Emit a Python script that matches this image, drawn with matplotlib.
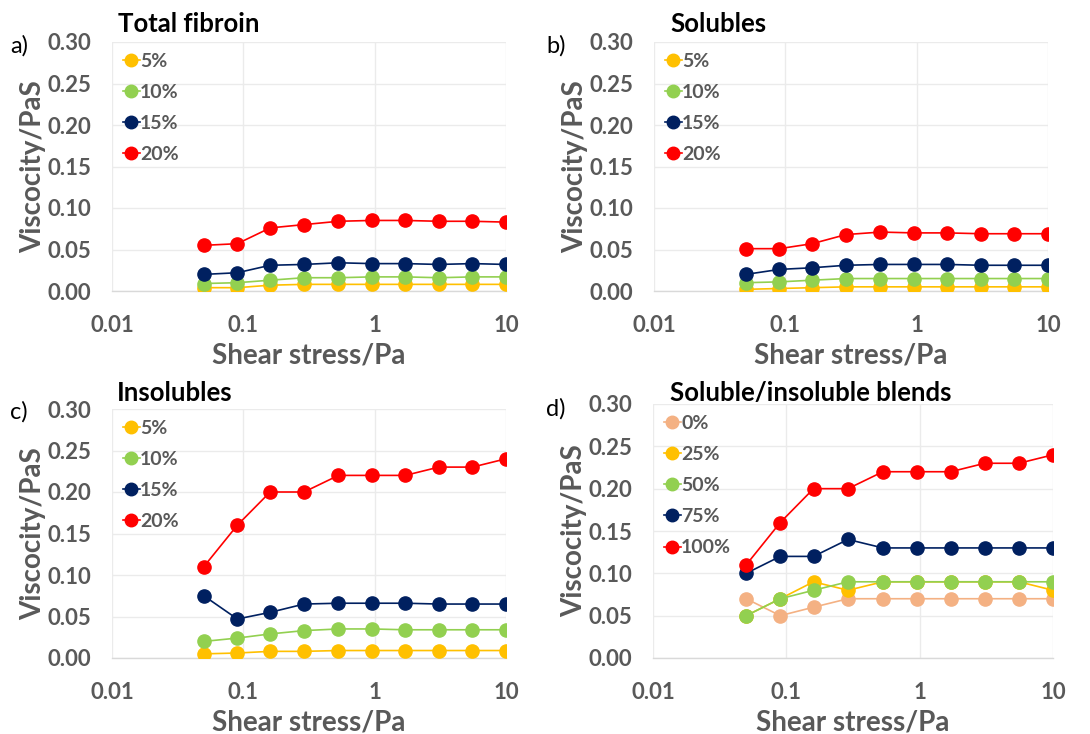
import matplotlib
matplotlib.use("Agg")
import matplotlib.pyplot as plt
from matplotlib.ticker import FixedLocator, FixedFormatter

plt.rcParams['font.family'] = ['Lato', 'DejaVu Sans']

# Shear stress sweep (Pa), shared by all panels
shear_stress = [0.05, 0.09, 0.16, 0.29, 0.53, 0.95, 1.71, 3.08, 5.55, 10.0]

# a) Total fibroin
total_labels = ["5%", "10%", "15%", "20%"]
total_5 = [0.004, 0.004, 0.007, 0.008, 0.008, 0.008, 0.008, 0.008, 0.008, 0.008]
total_10 = [0.009, 0.010, 0.013, 0.016, 0.016, 0.017, 0.017, 0.016, 0.017, 0.017]
total_15 = [0.020, 0.022, 0.031, 0.032, 0.034, 0.033, 0.033, 0.032, 0.033, 0.032]
total_20 = [0.055, 0.057, 0.076, 0.080, 0.084, 0.085, 0.085, 0.084, 0.084, 0.083]

# b) Solubles
sol_labels = ["5%", "10%", "15%", "20%"]
sol_5 = [0.002, 0.003, 0.004, 0.005, 0.005, 0.005, 0.005, 0.005, 0.005, 0.005]
sol_10 = [0.010, 0.011, 0.013, 0.015, 0.015, 0.015, 0.015, 0.015, 0.015, 0.015]
sol_15 = [0.020, 0.026, 0.028, 0.031, 0.032, 0.032, 0.032, 0.031, 0.031, 0.031]
sol_20 = [0.051, 0.051, 0.057, 0.068, 0.071, 0.070, 0.070, 0.069, 0.069, 0.069]

# c) Insolubles
ins_labels = ["5%", "10%", "15%", "20%"]
ins_5 = [0.005, 0.006, 0.008, 0.008, 0.009, 0.009, 0.009, 0.009, 0.009, 0.009]
ins_10 = [0.020, 0.024, 0.029, 0.033, 0.035, 0.035, 0.034, 0.034, 0.034, 0.034]
ins_15 = [0.075, 0.047, 0.055, 0.065, 0.066, 0.066, 0.066, 0.065, 0.065, 0.065]
ins_20 = [0.11, 0.16, 0.20, 0.20, 0.22, 0.22, 0.22, 0.23, 0.23, 0.24]

# d) Soluble/insoluble blends (fraction of insoluble)
blend_labels = ["0%", "25%", "50%", "75%", "100%"]
blend_0 = [0.07, 0.05, 0.06, 0.07, 0.07, 0.07, 0.07, 0.07, 0.07, 0.07]
blend_25 = [0.05, 0.07, 0.09, 0.08, 0.09, 0.09, 0.09, 0.09, 0.09, 0.08]
blend_50 = [0.05, 0.07, 0.08, 0.09, 0.09, 0.09, 0.09, 0.09, 0.09, 0.09]
blend_75 = [0.10, 0.12, 0.12, 0.14, 0.13, 0.13, 0.13, 0.13, 0.13, 0.13]
blend_100 = [0.11, 0.16, 0.20, 0.20, 0.22, 0.22, 0.22, 0.23, 0.23, 0.24]

x_ticks = [0.01, 0.1, 1, 10]
x_tick_labels = ["0.01", "0.1", "1", "10"]
y_ticks = [0.00, 0.05, 0.10, 0.15, 0.20, 0.25, 0.30]
y_tick_labels = ["0.00", "0.05", "0.10", "0.15", "0.20", "0.25", "0.30"]

YELLOW = "#FFC000"
GREEN = "#92D050"
NAVY = "#002060"
RED = "#FF0000"
PEACH = "#F4B183"
GREY_TEXT = "#595959"

W, H = 1090, 734
fig = plt.figure(figsize=(W / 100, H / 100), dpi=100)


def px_axes(left, top, right, bottom):
    return fig.add_axes([left / W, 1 - bottom / H, (right - left) / W, (bottom - top) / H])


def draw_panel(ax, series, colors, labels, title, tag, title_xy, tag_xy):
    for ys, c, lab in zip(series, colors, labels):
        ax.plot(shear_stress, ys, color=c, lw=1.2, marker="o", ms=9.5,
                mec=c, mfc=c, label=lab, zorder=3)
    ax.set_xscale("log")
    ax.set_xlim(0.01, 10)
    ax.set_ylim(0, 0.30)
    ax.xaxis.set_major_locator(FixedLocator(x_ticks))
    ax.xaxis.set_major_formatter(FixedFormatter(x_tick_labels))
    ax.xaxis.set_minor_locator(FixedLocator([]))
    ax.yaxis.set_major_locator(FixedLocator(y_ticks))
    ax.yaxis.set_major_formatter(FixedFormatter(y_tick_labels))
    ax.tick_params(axis="both", length=0, labelsize=16, labelcolor=GREY_TEXT)
    ax.tick_params(axis="x", pad=17)
    ax.tick_params(axis="y", pad=15)
    for lbl in ax.get_xticklabels() + ax.get_yticklabels():
        lbl.set_fontweight("bold")
    ax.grid(True, color="#EBEBEB", lw=1.0, zorder=0)
    for s in ("top", "right", "left"):
        ax.spines[s].set_visible(False)
    ax.spines["bottom"].set_color("#D9D9D9")
    ax.spines["bottom"].set_linewidth(1.0)
    ax.set_xlabel("Shear stress/Pa", fontsize=20, fontweight="bold", color=GREY_TEXT, labelpad=5)
    ax.set_ylabel("Viscocity/PaS", fontsize=20, fontweight="bold", color=GREY_TEXT, labelpad=1)
    leg = ax.legend(loc="upper left", frameon=False,
                    handlelength=0.9, handletextpad=0.0, labelspacing=0.73,
                    borderaxespad=0.25, borderpad=0.3,
                    prop={"weight": "bold", "size": 14})
    for t in leg.get_texts():
        t.set_color(GREY_TEXT)
    for h in leg.legend_handles:
        h.set_markersize(9)
    fig.text(title_xy[0] / W, 1 - title_xy[1] / H, title, fontsize=18.5,
             fontweight="bold", color="black", ha="left", va="center")
    fig.text(tag_xy[0] / W, 1 - tag_xy[1] / H, tag, fontsize=17,
             color="black", ha="left", va="center")


ax_a = px_axes(112, 42, 506, 291)
draw_panel(ax_a, [total_5, total_10, total_15, total_20], [YELLOW, GREEN, NAVY, RED],
           total_labels, "Total fibroin", "a)", (118, 24), (10, 46))

ax_b = px_axes(654, 42, 1048, 291)
draw_panel(ax_b, [sol_5, sol_10, sol_15, sol_20], [YELLOW, GREEN, NAVY, RED],
           sol_labels, "Solubles", "b)", (670, 24), (546, 46))

ax_c = px_axes(112, 409, 506, 658)
draw_panel(ax_c, [ins_5, ins_10, ins_15, ins_20], [YELLOW, GREEN, NAVY, RED],
           ins_labels, "Insolubles", "c)", (117, 393), (10, 412))

ax_d = px_axes(653, 404, 1053, 658)
draw_panel(ax_d, [blend_0, blend_25, blend_50, blend_75, blend_100],
           [PEACH, YELLOW, GREEN, NAVY, RED],
           blend_labels, "Soluble/insoluble blends", "d)", (670, 393), (546, 409))

fig.savefig("out.png", dpi=100)
